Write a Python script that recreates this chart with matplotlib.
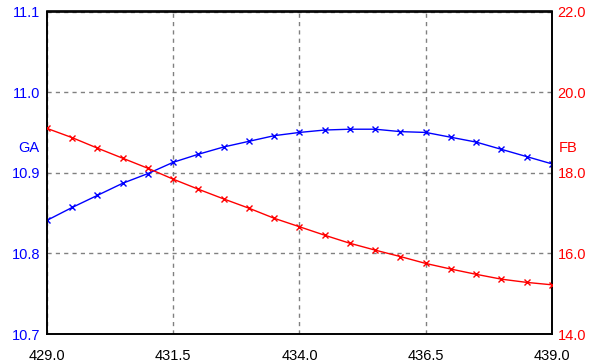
import numpy as np
import matplotlib.pyplot as plt

plt.rcParams['font.family'] = ['Liberation Sans', 'DejaVu Sans']

# Données
x = [429.0, 429.5, 430.0, 430.5, 431.0, 431.5, 432.0, 432.5, 433.0, 433.5, 434.0,
     434.5, 435.0, 435.5, 436.0, 436.5, 437.0, 437.5, 438.0, 438.5, 439.0]
ga = [10.841, 10.857, 10.872, 10.887, 10.899, 10.913, 10.923, 10.932, 10.939, 10.946, 10.950,
      10.953, 10.954, 10.954, 10.951, 10.950, 10.944, 10.938, 10.929, 10.920, 10.911]
fb = [19.10, 18.87, 18.61, 18.36, 18.11, 17.84, 17.59, 17.35, 17.12, 16.87, 16.66,
      16.45, 16.25, 16.08, 15.92, 15.75, 15.61, 15.48, 15.36, 15.28, 15.22]

x_ticks = [429.0, 431.5, 434.0, 436.5, 439.0]
ga_ticks = [10.7, 10.8, 10.9, 11.0, 11.1]
fb_ticks = [14.0, 16.0, 18.0, 20.0, 22.0]

fig = plt.figure(figsize=(5.94, 3.64), dpi=100)
ax = fig.add_axes([47 / 594, 30 / 364, 505 / 594, 322.5 / 364])
ax2 = ax.twinx()

ax.plot(x, ga, color='#0000ff', marker='x', markersize=5, mew=1, linewidth=1, zorder=3)
ax2.plot(x, fb, color='#ff0000', marker='x', markersize=5, mew=1, linewidth=1, zorder=3)

ax.set_xlim(429, 439)
ax.set_ylim(10.7, 11.1)
ax2.set_ylim(14, 22)
ax.set_xticks(x_ticks)
ax.set_xticklabels([f'{v:.1f}' for v in x_ticks])
ax.set_yticks(ga_ticks)
ax.set_yticklabels([f'{v:.1f}' for v in ga_ticks])
ax2.set_yticks(fb_ticks)
ax2.set_yticklabels([f'{v:.1f}' for v in fb_ticks])

ax.tick_params(axis='x', length=0, pad=11, labelsize=10.5, colors='black')
ax.tick_params(axis='y', length=0, pad=5, labelsize=10.5, labelcolor='#0000ff')
ax2.tick_params(axis='y', length=0, pad=4, labelsize=10.5, labelcolor='#ff0000')

ax.grid(True, color='#808080', linestyle=(0, (3, 3)), linewidth=1)
for a in (ax, ax2):
    for s in a.spines.values():
        s.set_linewidth(1.2)
        s.set_color('black')

fig.text(29 / 594, 1 - 148 / 364, 'GA', color='#0000ff', fontsize=10.5, ha='center', va='center')
fig.text(568 / 594, 1 - 148 / 364, 'FB', color='#ff0000', fontsize=10.5, ha='center', va='center')

plt.savefig('out.png', dpi=100)
